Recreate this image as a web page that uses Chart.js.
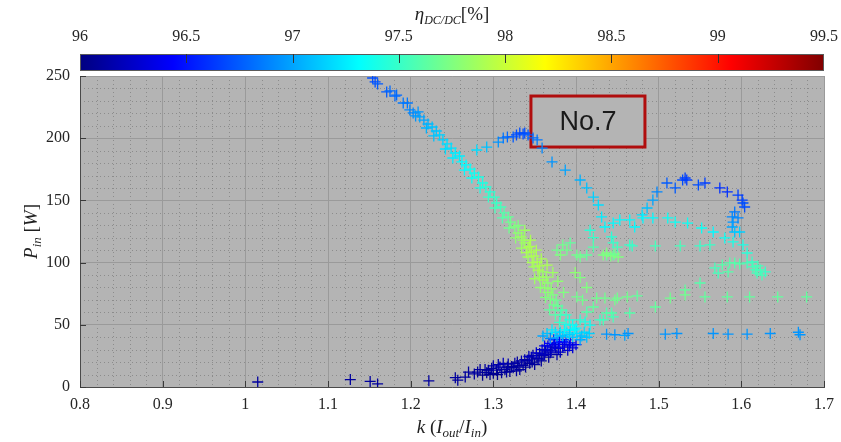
<!DOCTYPE html>
<html>
<head>
<meta charset="utf-8">
<script src="https://cdn.jsdelivr.net/npm/chart.js@4.4.0/dist/chart.umd.min.js"></script>
<style>
  html, body { margin: 0; padding: 0; background: #fff; }
  #chart { display: block; }
</style>
</head>
<body>
<canvas id="chart" width="841" height="442"></canvas>
<script>
// axis ticks
const kTicks = [0.8, 0.9, 1.0, 1.1, 1.2, 1.3, 1.4, 1.5, 1.6, 1.7];
const pinTicks = [0, 50, 100, 150, 200, 250];
const etaTicks = [96, 96.5, 97, 97.5, 98, 98.5, 99, 99.5];

// low power band (dark blue)
const lowK = [1.015, 1.127, 1.151, 1.160, 1.222, 1.254, 1.257, 1.266, 1.270, 1.277,
  1.281, 1.287, 1.290, 1.294, 1.296, 1.300, 1.300, 1.304, 1.308, 1.310,
  1.312, 1.314, 1.317, 1.320, 1.324, 1.326, 1.329, 1.332, 1.336, 1.338,
  1.341, 1.344, 1.346, 1.348, 1.350, 1.353, 1.356, 1.358, 1.360, 1.363,
  1.365, 1.367, 1.369, 1.372, 1.375, 1.377, 1.381, 1.384, 1.390, 1.396,
  1.284, 1.292, 1.298, 1.305, 1.306, 1.316, 1.318, 1.322, 1.328, 1.330,
  1.334, 1.339, 1.343, 1.347, 1.352, 1.355, 1.359, 1.362, 1.366, 1.370,
  1.374, 1.379, 1.386, 1.392, 1.380];
const lowPin = [4, 6, 4.5, 2.5, 5, 7.5, 5.5, 8, 12, 10.5,
  12, 9.5, 14, 13.5, 10, 11, 17, 13.5, 16, 11.5,
  19, 14, 16, 12.5, 15.5, 19, 20, 14, 17.5, 22,
  21.5, 19, 24, 25.5, 18, 23, 27, 21, 25.5, 29,
  30, 24, 27.5, 32, 31.5, 26, 28, 32, 29.5, 31.5,
  14, 11.5, 15, 10, 18, 12, 18.5, 16.5, 13, 17,
  21, 16, 24.5, 20, 27.5, 22.5, 30, 26, 33, 29,
  34, 31, 34, 33, 36];
const lowEta = [96.1, 96.1, 96.1, 96.1, 96.1, 96.1, 96.1, 96.1, 96.1, 96.1,
  96.1, 96.05, 96.1, 96.1, 96.05, 96.05, 96.15, 96.1, 96.15, 96.1,
  96.2, 96.1, 96.1, 96.05, 96.1, 96.15, 96.1, 96.1, 96.1, 96.15,
  96.1, 96.1, 96.2, 96.15, 96.1, 96.1, 96.2, 96.1, 96.15, 96.2,
  96.25, 96.1, 96.2, 96.3, 96.25, 96.15, 96.2, 96.3, 96.25, 96.3,
  96.1, 96.1, 96.1, 96.05, 96.15, 96.1, 96.15, 96.1, 96.1, 96.1,
  96.15, 96.1, 96.2, 96.1, 96.25, 96.15, 96.25, 96.2, 96.35, 96.2,
  96.35, 96.3, 96.35, 96.35, 96.45];

// knee around 30-45 W
const kneeK = [1.362, 1.369, 1.373, 1.377, 1.384, 1.388, 1.393, 1.400,
  1.360, 1.365, 1.369, 1.375, 1.377, 1.381, 1.384, 1.389, 1.393, 1.396, 1.401, 1.405, 1.410, 1.413,
  1.371, 1.386, 1.398, 1.380, 1.392, 1.407, 1.416];
const kneePin = [33, 35, 38, 35.5, 36.5, 38, 35.5, 34,
  41, 43, 39, 44, 39.5, 44, 40.5, 43.5, 45.8, 40, 43, 38, 44, 40,
  46, 46, 46, 41.5, 42, 41, 43];
const kneeEta = [96.4, 96.45, 96.6, 96.5, 96.5, 96.6, 96.45, 96.4,
  97.0, 97.1, 96.9, 97.2, 97.0, 97.2, 97.1, 97.2, 97.25, 97.1, 97.2, 97.0, 97.2, 97.1,
  97.25, 97.3, 97.3, 97.1, 97.15, 97.1, 97.15];

// flat row near 43 W
const flatK = [1.437, 1.447, 1.459, 1.463, 1.508, 1.522, 1.566, 1.584, 1.607, 1.635, 1.669, 1.671];
const flatPin = [42.5, 42, 41.5, 43, 42.5, 43, 43, 42.5, 42.5, 43, 44, 42];
const flatEta = [96.95, 96.95, 97.0, 96.95, 96.95, 96.95, 96.95, 96.95, 96.95, 96.95, 96.95, 96.95];

// main diagonal from 250 W down to the knee
const mainK = [1.154, 1.157, 1.160, 1.171, 1.175, 1.181, 1.183, 1.191, 1.196, 1.199, 1.203, 1.209, 1.206,
  1.211, 1.216, 1.221, 1.219, 1.226, 1.231, 1.228, 1.235, 1.239, 1.244,
  1.242, 1.249, 1.254, 1.251, 1.259, 1.262, 1.267, 1.265, 1.272, 1.277,
  1.274, 1.282, 1.287, 1.284, 1.291, 1.296, 1.294, 1.301, 1.304, 1.302,
  1.309, 1.313, 1.311, 1.318, 1.321, 1.319, 1.326, 1.330, 1.327, 1.334,
  1.338, 1.334, 1.342, 1.346, 1.342, 1.349, 1.353, 1.349, 1.356, 1.360,
  1.356, 1.364, 1.366, 1.362, 1.370, 1.372, 1.369, 1.376, 1.378, 1.383,
  1.381, 1.388, 1.392, 1.388, 1.396, 1.400, 1.405, 1.411, 1.417,
  1.401, 1.408, 1.421, 1.425, 1.437, 1.445, 1.450, 1.413, 1.429, 1.405, 1.413, 1.399,
  1.352, 1.358, 1.365, 1.372, 1.345, 1.338, 1.378, 1.385,
  1.330, 1.336, 1.340, 1.347, 1.354, 1.360, 1.366, 1.373, 1.344, 1.350,
  1.357, 1.363, 1.368, 1.375, 1.380];
const mainPin = [248.4, 245.2, 243.6, 237.2, 238.0, 233.9, 234.7, 228.3, 228.3, 222.7, 220.3, 221.1, 217.9,
  217.1, 214.6, 211.4, 208.2, 209.0, 205.8, 201.8, 202.6, 198.6, 195.4,
  191.3, 192.1, 188.1, 184.1, 185.7, 180.9, 178.5, 174.4, 175.2, 172.0,
  168.0, 168.8, 164.0, 160.0, 160.8, 156.8, 152.7, 152.7, 147.9, 143.9,
  144.7, 139.9, 135.9, 136.7, 132.6, 127.8, 128.6, 123.8, 119.8, 120.6,
  115.8, 111.7, 112.5, 108.5, 104.5, 105.3, 100.5, 96.5, 97.3, 92.5,
  88.4, 88.4, 83.6, 79.6, 78.8, 74.0, 70.7, 69.9, 65.1, 61.9,
  57.9, 57.9, 53.9, 50.6, 49.8, 47.4, 53.9, 52.3, 49.8,
  72.4, 69.9, 64.3, 71.5, 59.5, 56.3, 71.5, 60.3, 53.9, 88, 80, 92,
  110, 103, 98, 92, 118, 126, 85, 76,
  130, 118, 108, 100, 94, 86, 76, 66, 113, 87,
  80, 72, 62, 58, 52];
const mainEta = [96.7, 96.7, 96.75, 96.75, 96.8, 96.8, 96.8, 96.85, 96.85, 96.9, 96.9, 96.95, 96.95,
  97.0, 97.0, 97.05, 97.05, 97.1, 97.1, 97.1, 97.15, 97.15, 97.2,
  97.2, 97.2, 97.25, 97.25, 97.25, 97.3, 97.3, 97.3, 97.35, 97.35,
  97.35, 97.4, 97.4, 97.4, 97.45, 97.45, 97.5, 97.5, 97.5, 97.55,
  97.55, 97.6, 97.6, 97.65, 97.7, 97.7, 97.75, 97.8, 97.8, 97.85,
  97.85, 97.85, 97.9, 97.9, 97.85, 97.9, 97.9, 97.85, 97.9, 97.85,
  97.85, 97.85, 97.8, 97.8, 97.8, 97.75, 97.75, 97.7, 97.65, 97.6,
  97.55, 97.5, 97.45, 97.4, 97.35, 97.3, 97.45, 97.4, 97.35,
  97.7, 97.7, 97.65, 97.7, 97.6, 97.55, 97.7, 97.6, 97.5, 97.75, 97.75, 97.8,
  97.9, 97.9, 97.9, 97.85, 97.9, 97.85, 97.8, 97.75,
  97.75, 97.85, 97.9, 97.9, 97.9, 97.85, 97.8, 97.7, 97.9, 97.85,
  97.8, 97.75, 97.65, 97.6, 97.5];

// arc peaking near 205 W
const arcK = [1.280, 1.292, 1.306, 1.312, 1.317, 1.324, 1.328, 1.332, 1.336, 1.338,
  1.342, 1.348, 1.353, 1.359, 1.371, 1.387, 1.405, 1.413, 1.421, 1.427,
  1.431, 1.435, 1.421, 1.417, 1.453, 1.445];
const arcPin = [190.5, 192.9, 196.9, 200.2, 201.0, 201.0, 202.6, 204.2, 203.4, 204.2,
  202.6, 200.2, 198.6, 192.1, 180.9, 174.4, 166.4, 160.0, 152.7, 146.3,
  136.7, 128.6, 120, 126, 134.3, 131.8];
const arcEta = [97.2, 97.1, 96.95, 96.85, 96.8, 96.75, 96.7, 96.7, 96.7, 96.7,
  96.75, 96.8, 96.85, 96.9, 96.95, 97.0, 97.05, 97.1, 97.15, 97.2,
  97.25, 97.3, 97.5, 97.45, 97.3, 97.3];

// green rows around 110 W and 70 W
const rowK = [1.377, 1.384, 1.393, 1.401, 1.405, 1.413, 1.421, 1.437, 1.445, 1.450, 1.465, 1.381, 1.389,
  1.443, 1.445, 1.468, 1.496, 1.526, 1.550, 1.562,
  1.433, 1.437, 1.442, 1.447, 1.451,
  1.435, 1.447, 1.462, 1.474, 1.496, 1.514, 1.532, 1.532, 1.550, 1.556, 1.583, 1.610, 1.644, 1.679,
  1.443, 1.433, 1.465];
const rowPin = [110.1, 114.2, 115.8, 106.1, 104.5, 106.1, 112.5, 106.1, 106.1, 112.5, 114.2, 106.1, 110.1,
  120.6, 115.8, 113.4, 113.4, 113.4, 113.4, 114.2,
  106.1, 107.7, 105.3, 106.9, 104.5,
  71.5, 69.9, 72.4, 73.2, 64.3, 71.5, 78.0, 74.0, 83.6, 72.4, 72.4, 72.4, 72.4, 72.4,
  59.5, 53.9, 59.5];
const rowEta = [97.7, 97.7, 97.65, 97.7, 97.7, 97.65, 97.6, 97.65, 97.65, 97.55, 97.5, 97.75, 97.7,
  97.45, 97.5, 97.5, 97.55, 97.55, 97.5, 97.5,
  97.75, 97.75, 97.75, 97.7, 97.75,
  97.7, 97.7, 97.7, 97.65, 97.65, 97.7, 97.65, 97.7, 97.6, 97.65, 97.65, 97.65, 97.65, 97.65,
  97.6, 97.55, 97.6];

// arch on the right, peak near 167 W
const archK = [1.465, 1.471, 1.480, 1.486, 1.493, 1.498, 1.510, 1.520, 1.529, 1.534,
  1.532, 1.548, 1.556, 1.574, 1.583, 1.596, 1.601, 1.602, 1.604, 1.592,
  1.589, 1.590, 1.589, 1.592, 1.598, 1.596,
  1.607, 1.602, 1.613, 1.617, 1.619, 1.623, 1.629, 1.614, 1.620, 1.625,
  1.481, 1.493, 1.511, 1.520, 1.535, 1.552, 1.566, 1.580, 1.590,
  1.568, 1.572, 1.577, 1.586, 1.592, 1.598, 1.607, 1.584];
const archPin = [134.3, 128.6, 138.3, 143.9, 150.3, 156.8, 164.0, 160.0, 166.4, 166.4,
  168.0, 162.4, 164.0, 160.0, 156.8, 154.3, 150.3, 147.9, 144.7, 140.7,
  136.7, 132.6, 128.6, 124.6, 124.6, 135.9,
  107.7, 114.2, 100.5, 94.1, 91.6, 94.1, 92.5, 96.5, 97.3, 90.0,
  135.9, 135.9, 135.9, 132.6, 131.8, 127.8, 124.6, 119.8, 116.6,
  95.7, 91.6, 98.1, 99.7, 99.7, 98.9, 99.7, 92.5];
const archEta = [97.3, 97.3, 97.2, 97.1, 97.0, 96.9, 96.75, 96.75, 96.7, 96.65,
  96.65, 96.7, 96.65, 96.6, 96.6, 96.65, 96.65, 96.7, 96.7, 96.85,
  96.9, 96.95, 97.0, 97.1, 97.15, 96.9,
  97.45, 97.4, 97.5, 97.55, 97.55, 97.55, 97.5, 97.55, 97.55, 97.55,
  97.3, 97.3, 97.35, 97.35, 97.35, 97.35, 97.3, 97.35, 97.4,
  97.55, 97.55, 97.6, 97.6, 97.6, 97.6, 97.55, 97.6];

const etaMin = 96, etaMax = 99.5;
const serif = '"Liberation Serif", "DejaVu Serif", serif';

// MATLAB style jet colormap, t in [0, 1]
function jet(t) {
  const c = v => Math.round(255 * Math.min(1, Math.max(0, v)));
  return 'rgb(' + c(1.5 - Math.abs(4 * t - 3)) + ',' + c(1.5 - Math.abs(4 * t - 2)) + ',' + c(1.5 - Math.abs(4 * t - 1)) + ')';
}

function etaColor(eta) {
  return jet((eta - etaMin) / (etaMax - etaMin));
}

function branch(k, pin, eta) {
  return {
    data: k.map((v, i) => ({ x: v, y: pin[i] })),
    showLine: false,
    pointStyle: 'cross',
    pointRadius: 5.5,
    pointBorderWidth: 1.3,
    pointBorderColor: ctx => etaColor(eta[ctx.dataIndex])
  };
}

// draws a run of text pieces (for subscripts) centred on cx
function drawRich(ctx, parts, cx, baseY) {
  let total = 0;
  parts.forEach(p => { ctx.font = p.font; total += ctx.measureText(p.t).width; });
  let x = cx - total / 2;
  parts.forEach(p => {
    ctx.font = p.font;
    ctx.fillText(p.t, x, baseY + (p.dy || 0));
    x += ctx.measureText(p.t).width;
  });
}

// grey plot background and dotted minor grid
const backdrop = {
  id: 'backdrop',
  beforeDraw(chart) {
    const { ctx, chartArea: a, scales: { x, y } } = chart;
    ctx.save();
    ctx.fillStyle = '#b4b4b4';
    ctx.fillRect(a.left, a.top, a.right - a.left, a.bottom - a.top);
    ctx.strokeStyle = 'rgba(85,85,85,0.42)';
    ctx.lineWidth = 1;
    ctx.setLineDash([1, 3]);
    ctx.beginPath();
    for (let i = 41; i < 85; i++) {
      if (i % 5 === 0) continue;
      const px = Math.round(x.getPixelForValue(i * 0.02)) + 0.5;
      ctx.moveTo(px, a.top);
      ctx.lineTo(px, a.bottom);
    }
    for (let v = 10; v < 250; v += 10) {
      if (v % 50 === 0) continue;
      const py = Math.round(y.getPixelForValue(v)) + 0.5;
      ctx.moveTo(a.left, py);
      ctx.lineTo(a.right, py);
    }
    ctx.stroke();
    ctx.restore();
  }
};

// "No.7" label box, drawn under the markers
const noteBox = {
  id: 'noteBox',
  beforeDatasetsDraw(chart) {
    const { ctx, scales: { x, y } } = chart;
    const x0 = x.getPixelForValue(1.3455), x1 = x.getPixelForValue(1.4834);
    const y0 = y.getPixelForValue(233.9), y1 = y.getPixelForValue(192.9);
    ctx.save();
    ctx.fillStyle = '#b4b4b4';
    ctx.fillRect(x0, y0, x1 - x0, y1 - y0);
    ctx.strokeStyle = '#b00d0d';
    ctx.lineWidth = 3;
    ctx.strokeRect(x0, y0, x1 - x0, y1 - y0);
    ctx.fillStyle = '#1a1a1a';
    ctx.font = '27px "Liberation Sans", Arial, sans-serif';
    ctx.textAlign = 'center';
    ctx.textBaseline = 'middle';
    ctx.fillText('No.7', (x0 + x1) / 2, (y0 + y1) / 2 + 1);
    ctx.restore();
  }
};

// colour bar, inward tick marks and axis titles
const decorations = {
  id: 'decorations',
  afterDraw(chart) {
    const { ctx, chartArea: a, scales: { x, y, eta } } = chart;
    ctx.save();

    const bx0 = eta.getPixelForValue(etaMin), bx1 = eta.getPixelForValue(etaMax);
    const by = a.top - 22, bh = 17;
    const grad = ctx.createLinearGradient(bx0, 0, bx1, 0);
    for (let i = 0; i <= 40; i++) grad.addColorStop(i / 40, jet(i / 40));
    ctx.fillStyle = grad;
    ctx.fillRect(bx0, by, bx1 - bx0, bh);
    ctx.strokeStyle = '#5a5a5a';
    ctx.lineWidth = 1;
    ctx.strokeRect(bx0 + 0.5, by + 0.5, bx1 - bx0 - 1, bh - 1);
    ctx.strokeStyle = '#333';
    ctx.beginPath();
    etaTicks.slice(1, -1).forEach(v => {
      const px = Math.round(eta.getPixelForValue(v)) + 0.5;
      ctx.moveTo(px, by);
      ctx.lineTo(px, by + 9);
    });
    ctx.stroke();

    // ticks pointing into the plot
    ctx.strokeStyle = '#3a3a3a';
    ctx.beginPath();
    kTicks.forEach(v => {
      const px = Math.round(x.getPixelForValue(v)) + 0.5;
      ctx.moveTo(px, a.bottom);
      ctx.lineTo(px, a.bottom - 6);
    });
    pinTicks.forEach(v => {
      const py = Math.round(y.getPixelForValue(v)) + 0.5;
      ctx.moveTo(a.left, py);
      ctx.lineTo(a.left + 6, py);
    });
    ctx.stroke();

    ctx.fillStyle = '#1f1f1f';
    ctx.textBaseline = 'alphabetic';
    const big = 'italic 19px ' + serif, up = '19px ' + serif, sub = 'italic 13px ' + serif;
    drawRich(ctx, [
      { t: 'k', font: big }, { t: ' (', font: up },
      { t: 'I', font: big }, { t: 'out', font: sub, dy: 4 },
      { t: '/', font: up },
      { t: 'I', font: big }, { t: 'in', font: sub, dy: 4 },
      { t: ')', font: up }
    ], (a.left + a.right) / 2, 433);

    drawRich(ctx, [
      { t: 'η', font: big }, { t: 'DC/DC', font: 'italic 12px ' + serif, dy: 4 },
      { t: '[%]', font: up }
    ], (a.left + a.right) / 2, 20);

    ctx.translate(30, (a.top + a.bottom) / 2);
    ctx.rotate(-Math.PI / 2);
    drawRich(ctx, [
      { t: 'P', font: big }, { t: 'in', font: sub, dy: 4 },
      { t: ' [', font: up }, { t: 'W', font: big }, { t: ']', font: up }
    ], 0, 7);
    ctx.restore();
  }
};

const tickFont = { family: serif, size: 16 };
const fmt = v => String(Number(v.toFixed(2)));
// keep the label overhang from shrinking the plot area
const noSidePad = s => { s.paddingLeft = 0; s.paddingRight = 0; };

new Chart(document.getElementById('chart'), {
  type: 'scatter',
  data: {
    datasets: [
      branch(lowK, lowPin, lowEta),
      branch(kneeK, kneePin, kneeEta),
      branch(flatK, flatPin, flatEta),
      branch(rowK, rowPin, rowEta),
      branch(archK, archPin, archEta),
      branch(arcK, arcPin, arcEta),
      branch(mainK, mainPin, mainEta)
    ]
  },
  options: {
    responsive: false,
    animation: false,
    events: [],
    layout: { padding: { left: 0, right: 17, top: 0, bottom: 0 } },
    plugins: { legend: { display: false }, tooltip: { enabled: false } },
    scales: {
      x: {
        type: 'linear',
        position: 'bottom',
        min: 0.8,
        max: 1.7,
        afterBuildTicks: s => { s.ticks = kTicks.map(v => ({ value: v })); },
        afterFit: s => { s.height = 55; noSidePad(s); },
        grid: { color: '#9a9a9a', lineWidth: 1, drawTicks: false },
        border: { color: '#4a4a4a', width: 1 },
        ticks: { padding: 8, color: '#262626', font: tickFont, maxRotation: 0, callback: fmt }
      },
      y: {
        type: 'linear',
        min: 0,
        max: 250,
        afterBuildTicks: s => { s.ticks = pinTicks.map(v => ({ value: v })); },
        afterFit: s => { s.width = 80; },
        grid: { color: '#9a9a9a', lineWidth: 1, drawTicks: false },
        border: { color: '#4a4a4a', width: 1 },
        ticks: { padding: 10, color: '#262626', font: tickFont, callback: fmt }
      },
      eta: {
        type: 'linear',
        axis: 'x',
        position: 'top',
        min: etaMin,
        max: etaMax,
        afterBuildTicks: s => { s.ticks = etaTicks.map(v => ({ value: v })); },
        afterFit: s => { s.height = 76; noSidePad(s); },
        grid: { display: false, drawTicks: false },
        border: { display: false },
        ticks: { padding: 30, color: '#262626', font: tickFont, maxRotation: 0, callback: fmt }
      }
    }
  },
  plugins: [backdrop, noteBox, decorations]
});
</script>
</body>
</html>
